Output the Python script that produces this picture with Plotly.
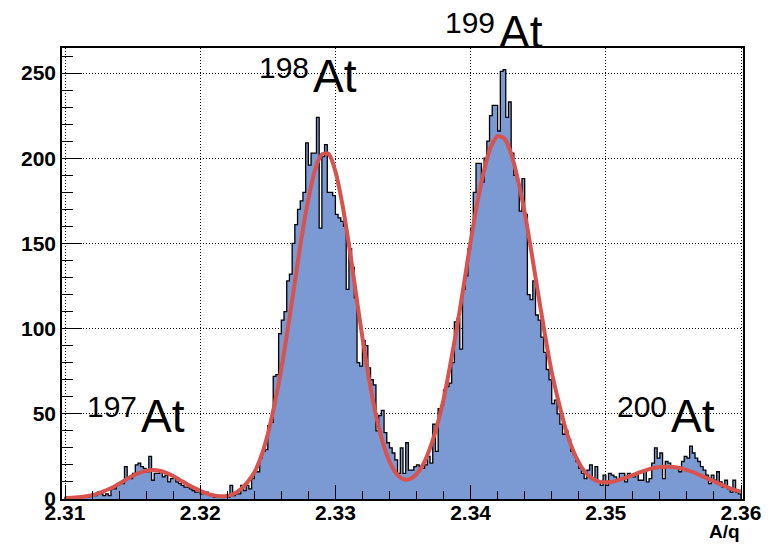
import plotly.graph_objects as go

# A/q spectrum: 250 bins of width 0.0002 starting at A/q = 2.31
bin_start = 2.31
bin_width = 0.0002
counts = [
    1, 0, 1, 1, 0, 1, 2, 1, 1, 2,
    3, 2, 4, 3, 2, 3, 2, 6, 6, 8,
    9, 9, 19, 12, 12, 15, 20, 21, 19, 18,
    16, 25, 11, 15, 15, 16, 13, 14, 10, 12,
    13, 10, 9, 8, 7, 7, 6, 5, 4, 4,
    3, 3, 4, 3, 2, 1, 2, 1, 1, 2,
    1, 8, 2, 3, 3, 8, 5, 8, 6, 12,
    16, 16, 24, 28, 29, 43, 45, 72, 73, 97,
    105, 110, 128, 132, 150, 161, 170, 175, 180, 209,
    196, 203, 203, 224, 159, 201, 208, 180, 180, 178,
    167, 165, 163, 160, 123, 147, 136, 118, 80, 78,
    93, 90, 77, 70, 67, 40, 49, 52, 39, 33,
    30, 27, 23, 15, 30, 15, 33, 17, 17, 19,
    20, 19, 18, 20, 25, 21, 44, 28, 53, 55,
    64, 66, 68, 80, 104, 106, 88, 123, 131, 147,
    159, 180, 197, 197, 186, 200, 210, 225, 231, 231,
    216, 251, 252, 224, 233, 203, 190, 187, 169, 188,
    167, 120, 117, 128, 108, 105, 95, 86, 76, 70,
    56, 58, 50, 44, 38, 40, 35, 28, 26, 22,
    18, 15, 12, 17, 20, 12, 19, 10, 8, 14,
    8, 15, 14, 13, 11, 15, 15, 10, 15, 14,
    13, 15, 11, 11, 17, 10, 12, 21, 30, 24,
    27, 12, 22, 21, 19, 18, 18, 16, 22, 25,
    24, 31, 27, 24, 22, 19, 17, 14, 9, 14,
    11, 16, 10, 7, 11, 6, 4, 11, 4, 3,
]

# Fitted peak model, sampled every 0.0005 in A/q
fit_start = 2.31
fit_step = 0.0005
fit_values = [
    0.6, 0.8, 1.1, 1.5, 2.2, 3.4, 5.0, 6.7, 9.0, 11.3,
    13.6, 15.3, 16.5, 17.0, 16.6, 15.3, 13.5, 11.2, 8.8, 6.7,
    4.8, 3.2, 2.1, 1.6, 1.8, 3.1, 5.7, 9.9, 15.5, 24.8,
    38.0, 55.6, 76.3, 101.0, 127.0, 153.6, 175.8, 193.3, 202.3, 202.5,
    192.3, 173.6, 149.4, 121.7, 94.8, 69.8, 49.2, 33.4, 22.1, 15.0,
    11.7, 11.7, 14.6, 20.4, 29.9, 42.5, 58.5, 79.0, 101.4, 125.7,
    151.0, 173.9, 193.0, 206.8, 213.0, 211.6, 202.7, 187.4, 168.2, 145.0,
    120.4, 96.5, 74.5, 57.4, 42.0, 30.1, 21.4, 15.4, 12.0, 10.2,
    9.8, 10.1, 11.2, 12.6, 14.0, 15.6, 17.0, 18.1, 18.8, 19.0,
    18.8, 18.1, 17.0, 15.6, 13.9, 12.1, 10.4, 8.6, 6.9, 5.4,
    4.3,
]

# Isotope labels (mass number, "At")
isotope_mass = ["197", "198", "199", "200"]
isotope_name = "At"

FONT = "Liberation Sans"
HIST_FILL = "#7B9AD3"
FIT_RED = "#D8524E"

# Step outline of the histogram, closed down to zero at both ends
edges = [round(bin_start + bin_width * i, 6) for i in range(len(counts) + 1)]
step_x = [edges[0]] + edges + [edges[-1]]
step_y = [0] + counts + [counts[-1], 0]

fit_x = [round(fit_start + fit_step * i, 6) for i in range(len(fit_values))]

fig = go.Figure()
fig.add_trace(go.Scatter(
    x=step_x, y=step_y, mode="lines",
    line=dict(color="black", width=1.3, shape="hv"),
    fill="tozeroy", fillcolor=HIST_FILL, hoverinfo="skip",
))
fig.add_trace(go.Scatter(
    x=fit_x, y=fit_values, mode="lines",
    line=dict(color=FIT_RED, width=4, shape="spline", smoothing=0.8),
    hoverinfo="skip",
))

# label anchors: x in A/q, y as a fraction of the plot height
label_x = [2.31544, 2.32817, 2.34193, 2.35465]
label_y_symbol = [0.184, 0.938, 1.0355, 0.184]
label_y_mass = [0.205, 0.9565, 1.0563, 0.205]

annotations = []
for m, lx, ys, ym in zip(isotope_mass, label_x, label_y_symbol, label_y_mass):
    annotations.append(dict(
        x=lx, y=ym, xref="x", yref="paper", text=m, showarrow=False,
        xanchor="right", yanchor="middle",
        font=dict(family=FONT, size=30, color="black"),
    ))
    annotations.append(dict(
        x=lx, y=ys, xref="x", yref="paper", text=isotope_name, showarrow=False,
        xanchor="left", yanchor="middle",
        font=dict(family=FONT, size=46, color="black"),
    ))
annotations.append(dict(
    x=0.9985, y=-0.072, xref="paper", yref="paper", text="A/q", showarrow=False,
    xanchor="right", yanchor="middle",
    font=dict(family=FONT, size=19, color="black", weight="bold"),
))

tickfont = dict(family=FONT, size=21, color="black", weight="bold")
grid = dict(showgrid=True, gridcolor="#000", gridwidth=1, griddash="1px,2px")

fig.update_layout(
    width=774, height=546,
    margin=dict(l=62, r=31, t=48, b=47),
    plot_bgcolor="white", paper_bgcolor="white",
    showlegend=False,
    annotations=annotations,
    xaxis=dict(
        range=[2.309778, 2.360148],
        tick0=2.31, dtick=0.01, tickformat=".2f",
        ticks="inside", ticklen=14, tickwidth=1.3, tickcolor="black",
        minor=dict(dtick=0.002, ticks="inside", ticklen=8, tickwidth=1.3,
                   tickcolor="black", showgrid=False),
        showline=True, linecolor="black", linewidth=1.6, mirror=True,
        zeroline=False, tickfont=tickfont, ticklabelstandoff=-6, **grid,
    ),
    yaxis=dict(
        range=[0, 264.7],
        tick0=0, dtick=50,
        ticks="inside", ticklen=20, tickwidth=1.3, tickcolor="black",
        minor=dict(dtick=10, ticks="inside", ticklen=11, tickwidth=1.3,
                   tickcolor="black", showgrid=False),
        showline=True, linecolor="black", linewidth=1.6, mirror=True,
        zeroline=False, tickfont=tickfont, **grid,
    ),
)

fig.write_html("out.html")
